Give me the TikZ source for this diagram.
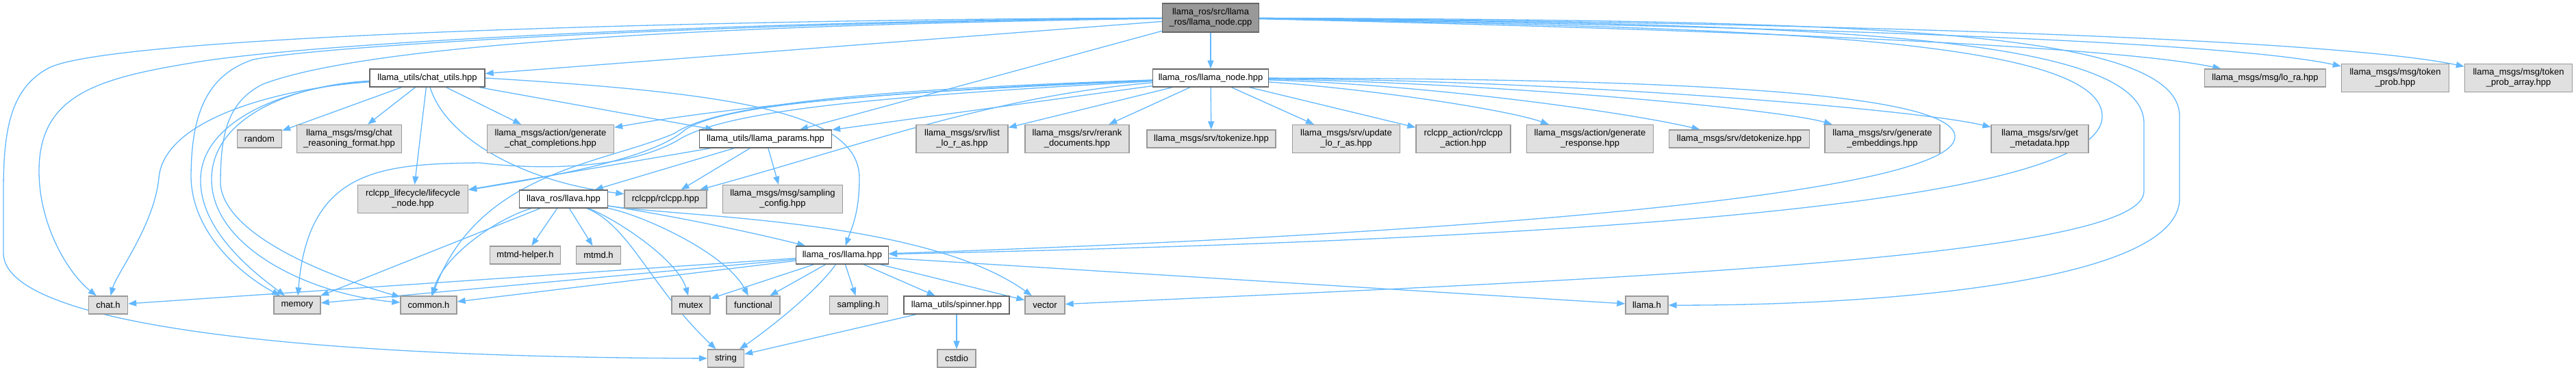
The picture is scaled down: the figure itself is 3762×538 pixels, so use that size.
\documentclass[tikz,border=0pt]{standalone}
\usepackage{fontspec}
\setmainfont{Liberation Sans}
\usetikzlibrary{arrows.meta}
\definecolor{edgec}{HTML}{63B8FF}
\definecolor{gfill}{HTML}{E0E0E0}
\definecolor{gdraw}{HTML}{999999}
\definecolor{wdraw}{HTML}{666666}
\definecolor{mfill}{HTML}{999999}
\pgfdeclarelayer{bg}
\pgfsetlayers{bg,main}
\begin{document}
\begin{tikzpicture}[x=1pt,y=-1pt,
  base/.style={rectangle,inner sep=0pt,align=center,line width=1.3pt,font=\fontsize{13}{15}\selectfont,text=black},
  gbox/.style={base,fill=gfill,draw=gdraw},
  wbox/.style={base,fill=white,draw=wdraw},
  mbox/.style={base,fill=mfill,draw=wdraw},
  sz/.style 2 args={minimum width=#1pt,minimum height=#2pt},
  edg/.style={draw=edgec,line width=1.3pt,-{Triangle[length=12pt,width=9pt]}},
]
\useasboundingbox (0,0) rectangle (3762,538);
% row 1
\node[mbox,sz={141}{42}] (M) at (1768,26) {llama\_ros/src/llama\\\_ros/llama\_node.cpp};
% row 2
\node[wbox,sz={168}{26}] (CU) at (624,114) {llama\_utils/chat\_utils.hpp};
\node[wbox,sz={169}{26}] (N) at (1768,114) {llama\_ros/llama\_node.hpp};
\node[gbox,sz={177}{26}] (LO) at (3308,114) {llama\_msgs/msg/lo\_ra.hpp};
\node[gbox,sz={157}{41}] (TP) at (3498,114) {llama\_msgs/msg/token\\\_prob.hpp};
\node[gbox,sz={157}{41}] (TPA) at (3678,114) {llama\_msgs/msg/token\\\_prob\_array.hpp};
% row 3
\node[gbox,sz={65}{26}] (RND) at (379,203) {random};
\node[gbox,sz={153}{41}] (CR) at (510,203) {llama\_msgs/msg/chat\\\_reasoning\_format.hpp};
\node[gbox,sz={185}{41}] (GCC) at (804,203) {llama\_msgs/action/generate\\\_chat\_completions.hpp};
\node[wbox,sz={193}{26}] (P) at (1118,203) {llama\_utils/llama\_params.hpp};
\node[gbox,sz={134}{41}] (LL) at (1405,203) {llama\_msgs/srv/list\\\_lo\_r\_as.hpp};
\node[gbox,sz={152}{41}] (RR) at (1573,203) {llama\_msgs/srv/rerank\\\_documents.hpp};
\node[gbox,sz={188}{26}] (TK) at (1769,203) {llama\_msgs/srv/tokenize.hpp};
\node[gbox,sz={157}{41}] (UL) at (1966,203) {llama\_msgs/srv/update\\\_lo\_r\_as.hpp};
\node[gbox,sz={138}{41}] (RA) at (2137,203) {rclcpp\_action/rclcpp\\\_action.hpp};
\node[gbox,sz={185}{41}] (GR) at (2322,203) {llama\_msgs/action/generate\\\_response.hpp};
\node[gbox,sz={205}{26}] (DT) at (2540,203) {llama\_msgs/srv/detokenize.hpp};
\node[gbox,sz={168}{41}] (GE) at (2749,203) {llama\_msgs/srv/generate\\\_embeddings.hpp};
\node[gbox,sz={142}{41}] (GM) at (2979,203) {llama\_msgs/srv/get\\\_metadata.hpp};
% row 4
\node[gbox,sz={161}{41}] (RL) at (603,291) {rclcpp\_lifecycle/lifecycle\\\_node.hpp};
\node[wbox,sz={129}{26}] (L) at (823,291) {llava\_ros/llava.hpp};
\node[gbox,sz={120}{26}] (RC) at (972,291) {rclcpp/rclcpp.hpp};
\node[gbox,sz={175}{41}] (SC) at (1143,291) {llama\_msgs/msg/sampling\\\_config.hpp};
% row 5
\node[gbox,sz={103}{26}] (MH) at (767,373) {mtmd-helper.h};
\node[gbox,sz={65}{26}] (MT) at (874,373) {mtmd.h};
\node[wbox,sz={135}{26}] (H) at (1230,373) {llama\_ros/llama.hpp};
% row 6
\node[gbox,sz={57}{26}] (chath) at (158,446) {chat.h};
\node[gbox,sz={68}{26}] (memory) at (434,446) {memory};
\node[gbox,sz={82}{26}] (commonh) at (626,446) {common.h};
\node[gbox,sz={56}{26}] (mutex) at (1009,446) {mutex};
\node[gbox,sz={78}{26}] (functional) at (1100,446) {functional};
\node[gbox,sz={85}{26}] (samplingh) at (1254,446) {sampling.h};
\node[wbox,sz={154}{26}] (S) at (1397,446) {llama\_utils/spinner.hpp};
\node[gbox,sz={58}{26}] (vector) at (1526,446) {vector};
\node[gbox,sz={62}{26}] (llamah) at (2405,446) {llama.h};
% row 7
\node[gbox,sz={53}{26}] (string) at (1060,524) {string};
\node[gbox,sz={56}{26}] (cstdio) at (1397,524) {cstdio};

\begin{pgfonlayer}{bg}
% main node
\draw[edg] (M) -- (CU);
\draw[edg] (M) -- (N);
\draw[edg] (M) -- (P);
\draw[edg] (M) .. controls (2600,45) and (3100,70) .. (LO);
\draw[edg] (M) .. controls (2600,38) and (3250,60) .. (TP);
\draw[edg] (M) .. controls (2600,32) and (3400,55) .. (TPA);
\draw[edg] (M) .. controls (2500,40) and (3070,50) .. (3070,170) .. controls (3070,300) and (2300,350) .. (H);
\draw[edg] (M) .. controls (2600,35) and (3131,45) .. (3131,180) -- (3131,280) .. controls (3131,380) and (2300,410) .. (vector);
\draw[edg] (M) .. controls (2700,30) and (3183,40) .. (3183,170) -- (3183,290) .. controls (3183,420) and (2700,447) .. (llamah);
\draw[edg] (M) .. controls (1100,28) and (160,50) .. (70,100) .. controls (15,130) and (5,190) .. (5,280) -- (5,370) .. controls (5,470) and (400,522) .. (string);
\draw[edg] (M) .. controls (1100,30) and (450,62) .. (280,92) .. controls (140,115) and (57,140) .. (57,250) .. controls (57,330) and (100,400) .. (chath);
\draw[edg] (M) .. controls (1100,32) and (480,65) .. (370,87) .. controls (300,110) and (279,170) .. (279,260) .. controls (281,340) and (350,400) .. (memory);
\draw[edg] (M) .. controls (1100,36) and (550,60) .. (384,123) .. controls (330,150) and (322,200) .. (322,270) .. controls (330,350) and (500,410) .. (commonh);
% chat_utils
\draw[edg] (CU) -- (RND);
\draw[edg] (CU) -- (CR);
\draw[edg] (CU) -- (GCC);
\draw[edg] (CU) -- (RL);
\draw[edg] (CU) .. controls (650,200) and (760,265) .. (RC);
\draw[edg] (CU) -- (P);
\draw[edg] (CU.east) .. controls (1050,135) and (1255,160) .. (1255,260) .. controls (1255,310) and (1245,330) .. (H);
\draw[edg] (CU) .. controls (420,128) and (240,170) .. (232,260) .. controls (225,330) and (170,400) .. (chath);
\draw[edg] (CU) .. controls (420,126) and (296,175) .. (293,260) .. controls (290,340) and (380,405) .. (memory);
\draw[edg] (CU) .. controls (430,124) and (311,170) .. (309,260) .. controls (307,360) and (450,430) .. (commonh);
% llama_node.hpp
\draw[edg] (N) -- (LL);
\draw[edg] (N) -- (RR);
\draw[edg] (N) -- (TK);
\draw[edg] (N) -- (UL);
\draw[edg] (N) -- (RA);
\draw[edg] (N) .. controls (2000,130) and (2200,160) .. (GR);
\draw[edg] (N) .. controls (2100,125) and (2380,165) .. (DT);
\draw[edg] (N) .. controls (2200,122) and (2600,160) .. (GE);
\draw[edg] (N) .. controls (2300,118) and (2800,160) .. (GM);
\draw[edg] (N) .. controls (2450,115) and (2855,135) .. (2855,200) .. controls (2855,280) and (2200,340) .. (H);
\draw[edg] (N) -- (P);
\draw[edg] (N) .. controls (1400,128) and (1100,150) .. (GCC);
\draw[edg] (N) .. controls (1300,135) and (1060,150) .. (1000,190) .. controls (950,235) and (780,262) .. (RL);
\draw[edg] (N) .. controls (1450,140) and (1250,215) .. (RC);
\draw[edg] (N) .. controls (1300,140) and (1060,160) .. (990,205) .. controls (920,245) and (800,250) .. (700,238) .. controls (560,240) and (450,245) .. (memory);
\draw[edg] (N) .. controls (1300,130) and (1050,150) .. (985,195) .. controls (880,240) and (700,250) .. (commonh);
% llama_params
\draw[edg] (P) -- (RL);
\draw[edg] (P) -- (L);
\draw[edg] (P) -- (RC);
\draw[edg] (P) -- (SC);
% llava
\draw[edg] (L) -- (memory);
\draw[edg] (L) .. controls (730,318) and (650,370) .. (commonh);
\draw[edg] (L) -- (MH);
\draw[edg] (L) -- (MT);
\draw[edg] (L) .. controls (920,330) and (950,420) .. (string);
\draw[edg] (L) .. controls (900,320) and (990,380) .. (mutex);
\draw[edg] (L) .. controls (940,315) and (1060,370) .. (functional);
\draw[edg] (L) .. controls (980,315) and (1100,340) .. (H);
\draw[edg] (L) .. controls (1000,318) and (1350,320) .. (vector);
% llama.hpp
\draw[edg] (H) -- (chath);
\draw[edg] (H) -- (memory);
\draw[edg] (H) -- (commonh);
\draw[edg] (H) -- (mutex);
\draw[edg] (H) -- (functional);
\draw[edg] (H) -- (samplingh);
\draw[edg] (H) -- (S);
\draw[edg] (H) -- (vector);
\draw[edg] (H) .. controls (1190,430) and (1110,490) .. (string);
\draw[edg] (H) -- (llamah);
% spinner
\draw[edg] (S) -- (string);
\draw[edg] (S) -- (cstdio);
\end{pgfonlayer}
\end{tikzpicture}
\end{document}
